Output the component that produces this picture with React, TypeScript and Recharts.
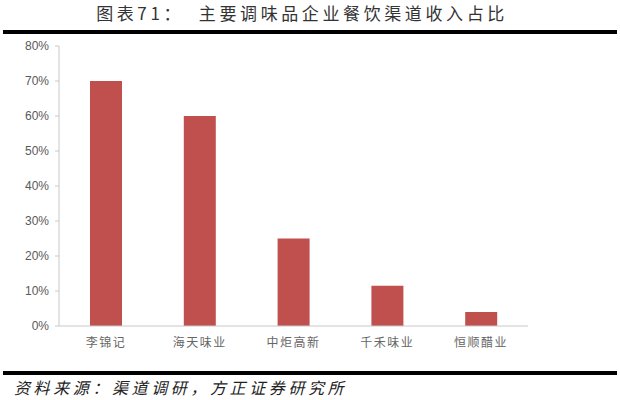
import React from 'react';
import { BarChart, Bar, XAxis, YAxis } from 'recharts';

// Share of revenue from the catering channel, by company (%)
const companies = ['李锦记', '海天味业', '中炬高新', '千禾味业', '恒顺醋业'];
const cateringShare = [70, 60, 25, 11.5, 4];
const yTicks = [0, 10, 20, 30, 40, 50, 60, 70, 80];

const titleText = '图表71：  主要调味品企业餐饮渠道收入占比';
const sourceText = '资料来源：渠道调研，方正证券研究所';

const rows = companies.map((name, i) => ({ name, value: cateringShare[i] }));

const cjk = '"Noto Sans CJK SC", "Noto Sans", sans-serif';

export default function App() {
  return (
    <div
      style={{
        position: 'fixed',
        top: 0,
        left: 0,
        width: 620,
        height: 400,
        background: '#fff',
        overflow: 'hidden',
      }}
    >
      <div
        style={{
          position: 'absolute',
          top: 0,
          left: -8,
          width: 620,
          textAlign: 'center',
          fontFamily: cjk,
          fontSize: 17,
          letterSpacing: 3.6,
          color: '#333',
          lineHeight: '26px',
          whiteSpace: 'pre',
        }}
      >
        {titleText}
      </div>
      <div
        style={{
          position: 'absolute',
          top: 30,
          left: 3,
          width: 614,
          height: 4,
          background: '#000',
        }}
      />
      <div style={{ position: 'absolute', top: 0, left: 0 }}>
        <BarChart
          width={620}
          height={400}
          data={rows}
          margin={{ top: 46, right: 92, left: 9, bottom: 44 }}
        >
          <XAxis
            dataKey="name"
            height={30}
            axisLine={{ stroke: '#c8c8c8' }}
            tickLine={false}
            tickMargin={6}
            tick={{ fill: '#666', fontSize: 12, fontFamily: cjk, letterSpacing: 1.5 }}
          />
          <YAxis
            width={50}
            domain={[0, 80]}
            ticks={yTicks}
            interval={0}
            tickFormatter={(v: number) => `${v}%`}
            axisLine={{ stroke: '#c8c8c8' }}
            tickLine={{ stroke: '#c8c8c8' }}
            tickSize={4}
            tickMargin={6}
            tick={{ fill: '#595959', fontSize: 12, fontFamily: 'Liberation Sans, Arial, sans-serif' }}
          />
          <Bar dataKey="value" fill="#C0504D" barSize={32} isAnimationActive={false} />
        </BarChart>
      </div>
      <div
        style={{
          position: 'absolute',
          top: 371,
          left: 3,
          width: 614,
          height: 4,
          background: '#000',
        }}
      />
      <div
        style={{
          position: 'absolute',
          top: 376,
          left: 14,
          fontFamily: cjk,
          fontSize: 16,
          fontStyle: 'italic',
          letterSpacing: 3.6,
          color: '#222',
          lineHeight: '22px',
          whiteSpace: 'pre',
        }}
      >
        {sourceText}
      </div>
    </div>
  );
}
